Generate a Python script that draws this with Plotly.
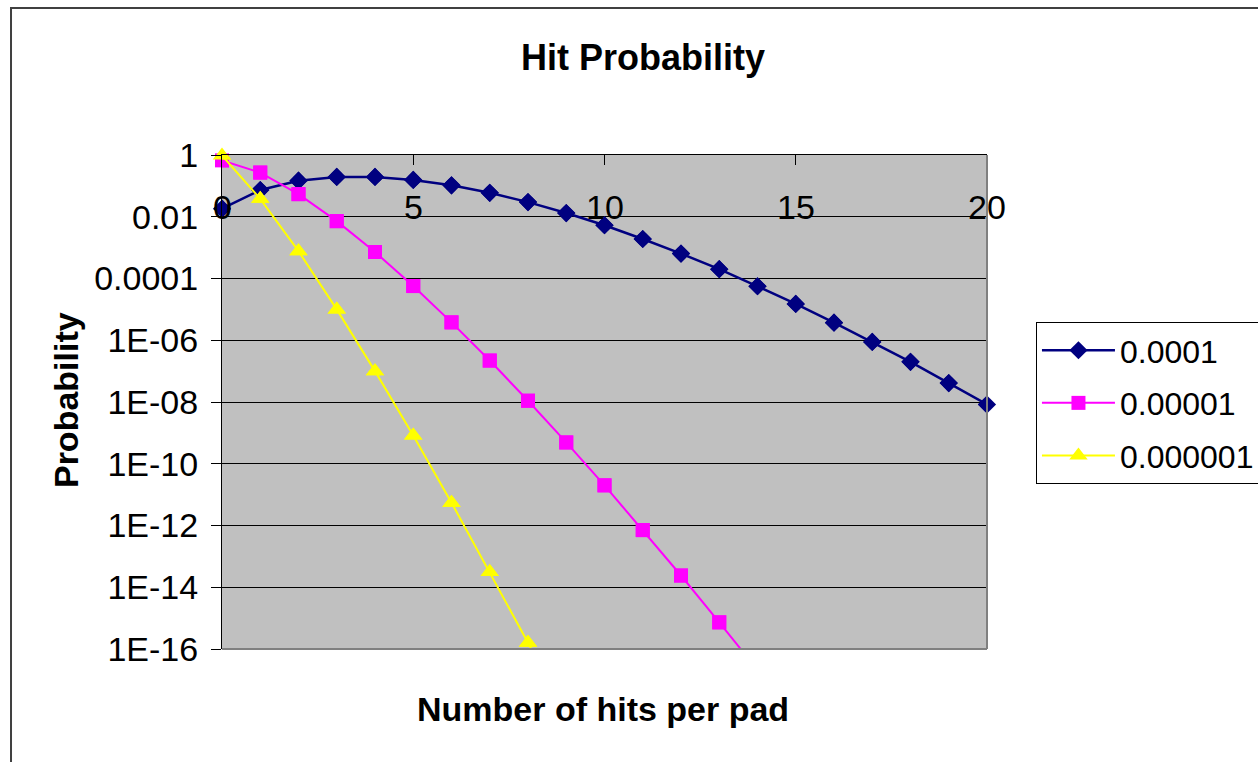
import numpy as np
import plotly.graph_objects as go

# ---- data ----
hits_1 = list(range(0, 21))
prob_1e4 = [0.0183, 0.0733, 0.147, 0.195, 0.195, 0.156, 0.104, 0.0595, 0.0298, 0.0132,
            0.0053, 0.0019, 6.4e-4, 2.0e-4, 5.6e-5, 1.5e-5, 3.7e-6, 8.8e-7, 2.0e-7, 4.1e-8, 8.3e-9]
hits_2 = list(range(0, 15))
prob_1e5 = [0.67, 0.27, 0.054, 7.2e-3, 7.2e-4, 5.7e-5, 3.8e-6, 2.2e-7, 1.1e-8, 4.9e-10,
            2.0e-11, 7.1e-13, 2.4e-14, 7.3e-16, 2.1e-17]
hits_3 = list(range(0, 10))
prob_1e6 = [0.96, 0.038, 7.7e-4, 1.0e-5, 1.0e-7, 8.2e-10, 5.5e-12, 3.1e-14, 1.6e-16, 7.0e-19]

series_names = ["0.0001", "0.00001", "0.000001"]
x_ticks = [0, 5, 10, 15, 20]
x_tick_labels = ["0", "5", "10", "15", "20"]
y_ticks = [1, 1e-2, 1e-4, 1e-6, 1e-8, 1e-10, 1e-12, 1e-14, 1e-16]
y_tick_labels = ["1", "0.01", "0.0001", "1E-06", "1E-08", "1E-10", "1E-12", "1E-14", "1E-16"]

FONT = "Liberation Sans, Arial, sans-serif"
Y_MIN = 1e-16

styles = [
    dict(color="#000080", symbol="diamond", size=14, width=2.5),
    dict(color="#FF00FF", symbol="square", size=14, width=2),
    dict(color="#FFFF00", symbol="triangle-up", size=16, width=2),
]

fig = go.Figure()
all_series = [(hits_1, prob_1e4), (hits_2, prob_1e5), (hits_3, prob_1e6)]
for i, ((xs, ys), name, st) in enumerate(zip(all_series, series_names, styles)):
    fig.add_trace(go.Scatter(
        x=xs, y=ys, name=name, mode="lines+markers", legendgroup=name,
        line=dict(color=st["color"], width=st["width"]),
        marker=dict(symbol=st["symbol"], size=st["size"], color=st["color"]),
        cliponaxis=True,
    ))
    xa = np.array(xs)
    ya = np.array(ys)
    mask = ya >= Y_MIN
    fig.add_trace(go.Scatter(
        x=xa[mask], y=ya[mask], mode="markers", showlegend=False, legendgroup=name,
        marker=dict(symbol=st["symbol"], size=st["size"], color=st["color"]),
        cliponaxis=False, hoverinfo="skip",
    ))

annotations = []
for xv, lab in zip(x_ticks, x_tick_labels):
    annotations.append(dict(x=xv, y=-1.70, xref="x", yref="y", text=lab, showarrow=False,
                            font=dict(family=FONT, size=34, color="black"),
                            xanchor="center", yanchor="middle"))
annotations += [
    dict(x=0.5503, y=1.198, xref="paper", yref="paper", text="<b>Hit Probability</b>",
         showarrow=False, font=dict(family=FONT, size=36, color="black"),
         xanchor="center", yanchor="middle"),
    dict(x=0.498, y=-0.1215, xref="paper", yref="paper", text="<b>Number of hits per pad</b>",
         showarrow=False, font=dict(family=FONT, size=34, color="black"),
         xanchor="center", yanchor="middle"),
    dict(x=-0.2039, y=0.504, xref="paper", yref="paper", text="<b>Probability</b>",
         showarrow=False, textangle=-90, font=dict(family=FONT, size=34, color="black"),
         xanchor="center", yanchor="middle"),
]

shapes = [
    # outer chart border
    dict(type="rect", xref="paper", yref="paper", x0=-0.2758, x1=1.45, y0=-0.35, y1=1.2976,
         line=dict(color="#404040", width=2), fillcolor="rgba(0,0,0,0)", layer="above"),
    # grey right and bottom plot-area edges
    dict(type="line", xref="paper", yref="paper", x0=1, x1=1, y0=0, y1=1,
         line=dict(color="#808080", width=2), layer="above"),
    dict(type="line", xref="paper", yref="paper", x0=0, x1=1, y0=0, y1=0,
         line=dict(color="#808080", width=2), layer="above"),
]

fig.update_layout(
    width=1258, height=762,
    margin=dict(l=222, r=271, t=155, b=113, autoexpand=False),
    paper_bgcolor="white", plot_bgcolor="#C0C0C0",
    font=dict(family=FONT, size=34, color="black"),
    showlegend=True,
    legend=dict(x=1.064, y=0.662, xanchor="left", yanchor="top",
                bgcolor="white", bordercolor="black", borderwidth=1,
                font=dict(family=FONT, size=32, color="black"),
                tracegroupgap=8, itemwidth=73),
    annotations=annotations,
    shapes=shapes,
    xaxis=dict(range=[0, 20], side="top", showgrid=False, zeroline=False,
               showline=True, linecolor="black", linewidth=1,
               ticks="inside", tickvals=x_ticks, ticklen=10, tickcolor="black",
               showticklabels=False),
    yaxis=dict(type="log", range=[-16, 0], showgrid=True, gridcolor="black", gridwidth=1,
               zeroline=False, showline=True, linecolor="black", linewidth=1,
               ticks="outside", ticklen=10, tickcolor="black",
               tickvals=y_ticks, ticktext=y_tick_labels,
               tickfont=dict(family=FONT, size=34, color="black"),
               ticklabelstandoff=6),
)

fig.write_html("out.html",
               config={"displayModeBar": False},
               post_script="document.body.style.margin='0';document.body.style.overflow='hidden';")
